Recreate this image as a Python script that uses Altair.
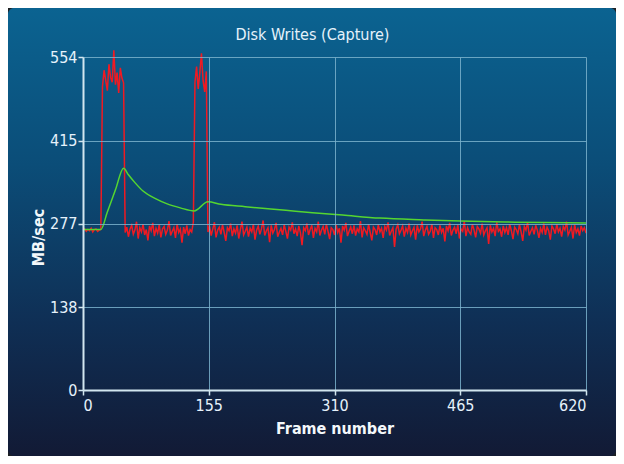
import altair as alt
import pandas as pd

# ---- data ----
raw_frames = list(range(0, 621, 2))
raw_values = (
    [266, 268, 264, 267, 265, 269, 263, 267, 268, 264, 266]
    + [267]
    + [505, 532, 515, 498, 542, 520, 512, 565, 508, 528, 494, 536, 519, 511]
    + [262, 271, 255, 268, 274, 259, 266, 280, 252, 270, 263, 276, 258, 267, 249,
       273, 265, 278, 256, 269, 261, 275, 254, 268, 272, 259, 266, 281, 257, 264,
       270, 253, 276, 262, 268, 245, 271, 260, 274, 257, 267, 263, 279]
    + [512, 538, 501, 528, 560, 515, 496, 530]
    + [263, 272, 257, 268, 279, 254, 266, 271, 259, 275, 262, 248, 270, 265, 277, 256, 268, 261,
       274, 252, 267, 280, 258, 264, 271, 255, 269, 263, 276, 250, 266, 273, 259, 268, 282, 257,
       265, 270, 246, 274, 261, 267, 278, 255, 263, 269, 258, 275, 264, 252, 271, 266, 279, 260,
       268, 256, 273, 262, 241, 270, 265, 277, 258, 267, 274, 253, 269, 263, 280, 257, 266, 272,
       259, 276, 264, 251, 270, 267, 258, 275, 262, 269, 245, 273, 266, 278, 256, 264, 271, 260,
       274, 257, 268, 263, 281, 254, 270, 265, 259, 276, 262, 249, 271, 267, 258, 275, 263, 269,
       253, 272, 266, 279, 257, 264, 270, 238, 268, 275, 260, 266, 273, 255, 269, 262, 277, 258,
       265, 271, 250, 274, 263, 268, 280, 256, 266, 272, 259, 264, 276, 253, 270, 267, 258, 274,
       262, 269, 247, 273, 265, 278, 257, 266, 271, 260, 275, 252, 268, 264, 281, 256, 270, 263,
       259, 276, 266, 254, 272, 268, 261, 277, 258, 265, 270, 243, 274, 263, 269, 256, 279, 264,
       268, 255, 273, 262, 270, 258, 276, 265, 251, 271, 267, 260, 275, 263, 248, 272, 266, 279,
       257, 264, 270, 259, 274, 266, 253, 269, 262, 277, 258, 271, 265, 250, 273, 268, 260, 276,
       263, 269, 255, 272, 266, 280, 258, 264, 271, 252, 275, 262, 268, 257, 273, 265, 270, 261]
)

avg_frames = [0, 22, 30, 40, 50, 56, 64, 74, 90, 103, 120, 137, 154, 170, 200, 250,
              283, 320, 366, 420, 465, 520, 570, 620]
avg_values = [267, 267, 296, 333, 369, 358, 345, 331, 318, 310, 303, 298, 313, 309, 305, 299,
              295, 291, 286, 283, 281, 279.5, 278.5, 278]

x_ticks = [0, 155, 310, 465, 620]
y_ticks = [0, 138, 277, 415, 554]

raw_df = pd.DataFrame({"frame": raw_frames, "mbs": raw_values})
avg_df = pd.DataFrame({"frame": avg_frames, "mbs": avg_values})

FONT = "DejaVu Sans Condensed"
TXT = "#e6f2fb"

x_enc = alt.X("frame:Q", scale=alt.Scale(domain=[0, 620], nice=False),
              axis=alt.Axis(values=x_ticks, title="Frame number", zindex=1))
y_enc = alt.Y("mbs:Q", scale=alt.Scale(domain=[0, 554], nice=False),
              axis=alt.Axis(values=y_ticks, title="MB/sec", zindex=1,
                            titleX=-45, titleY=180, titleAngle=270,
                            titleAlign="center", titleBaseline="middle"))

panel = alt.Chart(pd.DataFrame({"a": [0]})).mark_rect(
    cornerRadius=6,
    fill=alt.LinearGradient(
        gradient="linear", x1=0, x2=0, y1=0, y2=1,
        stops=[alt.GradientStop(color="#0b6391", offset=0),
               alt.GradientStop(color="#0b4d78", offset=0.35),
               alt.GradientStop(color="#0f2f55", offset=0.7),
               alt.GradientStop(color="#121a35", offset=1)]),
).encode(x=alt.value(-75), x2=alt.value(533), y=alt.value(-49), y2=alt.value(399))

raw = alt.Chart(raw_df).mark_line(color="#f01a22", strokeWidth=1.5).encode(x=x_enc, y=y_enc)
avg = alt.Chart(avg_df).mark_line(color="#55d630", strokeWidth=1.5,
                                  interpolate="monotone").encode(x="frame:Q", y="mbs:Q")

chart = alt.layer(panel, raw, avg).properties(
    width=503, height=333,
    title=alt.TitleParams("Disk Writes (Capture)", dx=-22, offset=-35, frame="group",
                          font=FONT, fontSize=16, fontWeight="normal", color=TXT),
    autosize=alt.AutoSizeParams(type="none"),
    padding={"left": 75, "top": 49, "right": 30, "bottom": 66},
    background="#1d2023",
    usermeta={"embedOptions": {"defaultStyle": "body{background:#1d2023}"}},
).configure_view(stroke=None).configure_axis(
    gridColor="#7ab2cc", gridWidth=1, gridOpacity=0.85,
    domainColor="#d2e6ef", domainWidth=2,
    tickColor="#d2e6ef", tickSize=5, tickWidth=1.5,
    labelFont=FONT, labelFontSize=16, labelColor=TXT,
    titleFont=FONT, titleFontSize=16, titleFontWeight="bold", titleColor="#f4f8fb",
).configure_axisX(labelPadding=2, titlePadding=7).configure_axisY(labelPadding=1)

chart.save("out.html", embed_options={"renderer": "svg", "actions": False})
